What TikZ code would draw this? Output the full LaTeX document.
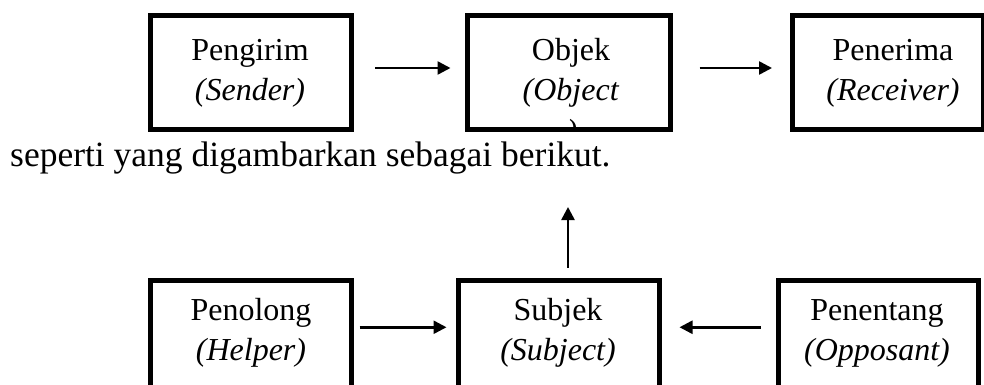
\documentclass[tikz,border=0pt]{standalone}
\usepackage{fontspec}
\setmainfont{Liberation Serif}
\usetikzlibrary{arrows.meta}
\tikzset{
  boxnode/.style={draw, line width=5pt, rectangle, inner sep=0pt},
  lbl/.style={align=center, inner sep=0pt, font=\fontsize{32}{40}\selectfont},
  arr/.style={line width=2.5pt, -{Triangle[length=13pt,width=13pt]}}
}
\begin{document}
\begin{tikzpicture}[x=1pt,y=-1pt]
\useasboundingbox (0,0) rectangle (984,385);
\clip (0,0) rectangle (984,385);
% top row
\node[boxnode, minimum width=201pt, minimum height=113pt] (b1) at (250.5,72.5) {};
\node[boxnode, minimum width=203pt, minimum height=113pt] (b2) at (569,72.5) {};
\node[boxnode, minimum width=191pt, minimum height=113pt] (b3) at (887.5,72.5) {};
\node[lbl] (t1) at (250,73) {Pengirim\\\textit{(Sender)}};
\node[lbl] (t2) at (571,73) {Objek\\\textit{(Object}};
\begin{scope}
  \clip (470,18.5) rectangle (668,126.5);
  \node[lbl, anchor=base] (t2b) at (572,141) {\textit{)}};
\end{scope}
\node[lbl] (t3) at (893,73) {Penerima\\\textit{(Receiver)}};
% sentence
\node[anchor=base west, inner sep=0pt, font={\fontsize{35.5}{40}\selectfont}] (s) at (10,166) {seperti yang digambarkan sebagai berikut.};
% bottom row
\node[boxnode, minimum width=201pt, minimum height=119.5pt] (b4) at (251,340.25) {};
\node[boxnode, minimum width=201pt, minimum height=119.5pt] (b5) at (559,340.25) {};
\node[boxnode, minimum width=200pt, minimum height=119.5pt] (b6) at (878.5,340.25) {};
\node[lbl] (t4) at (251,333) {Penolong\\\textit{(Helper)}};
\node[lbl] (t5) at (558,333) {Subjek\\\textit{(Subject)}};
\node[lbl] (t6) at (877,333) {Penentang\\\textit{(Opposant)}};
% arrows
\draw[arr, shorten <=21.5pt, shorten >=14.5pt] ([yshift=4.5pt]b1.east) -- ([yshift=4.5pt]b2.west);
\draw[arr, shorten <=26.5pt, shorten >=17.5pt] ([yshift=4.5pt]b2.east) -- ([yshift=4.5pt]b3.west);
\draw[arr, shorten <=5.5pt, shorten >=9.5pt] ([yshift=13pt]b4.east) -- ([yshift=13pt]b5.west);
\draw[arr, shorten <=15.5pt, shorten >=17.5pt] ([yshift=13pt]b6.west) -- ([yshift=13pt]b5.east);
\draw[arr, shorten <=10.5pt, shorten >=75.5pt] (b5.north -| 568,0) -- (b2.south -| 568,0);
\end{tikzpicture}
\end{document}
